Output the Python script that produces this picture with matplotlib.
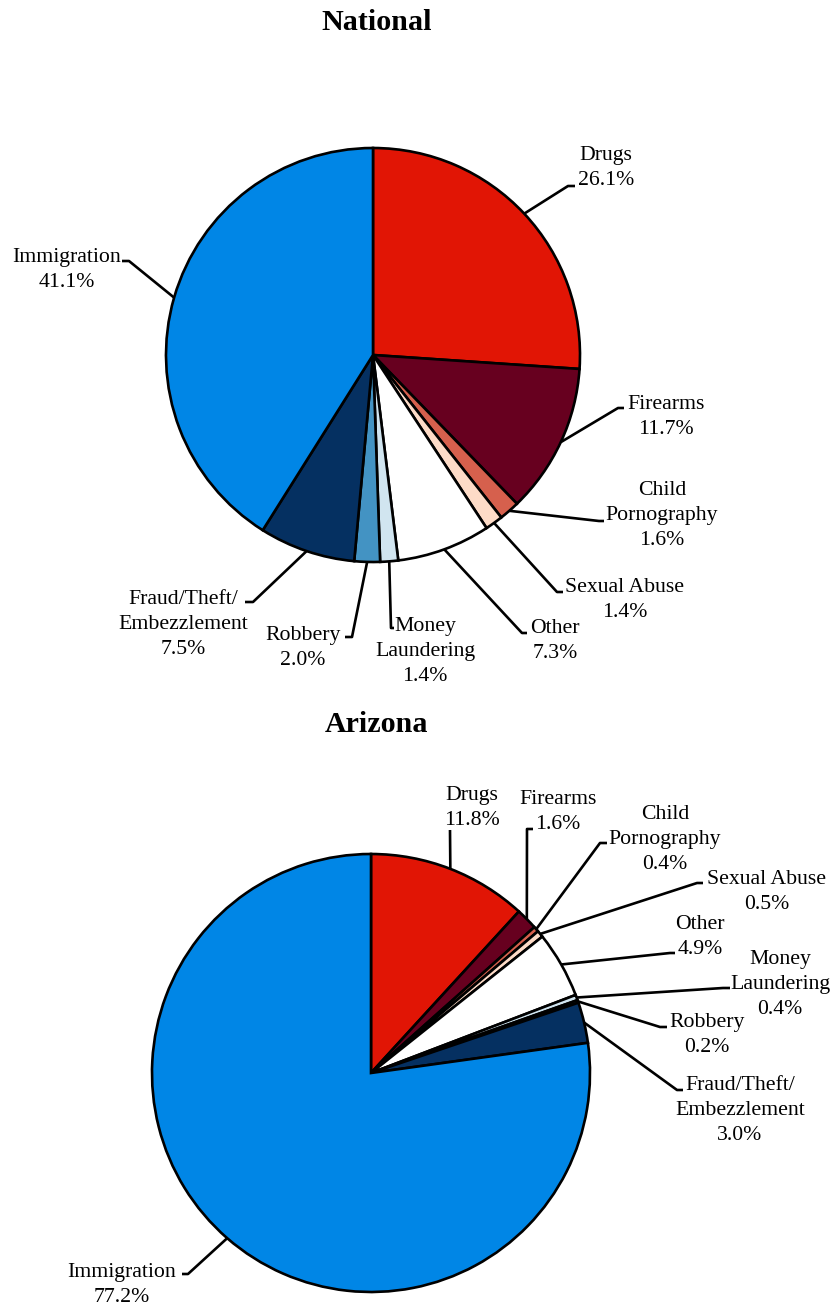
import numpy as np
import matplotlib
matplotlib.use("Agg")
import matplotlib.pyplot as plt

# ---------------- data ----------------
categories = ["Drugs", "Firearms", "Child Pornography", "Sexual Abuse", "Other",
              "Money Laundering", "Robbery", "Fraud/Theft/Embezzlement", "Immigration"]
label_text = ["Drugs", "Firearms", "Child\nPornography", "Sexual Abuse", "Other",
              "Money\nLaundering", "Robbery", "Fraud/Theft/\nEmbezzlement", "Immigration"]
national_values = [26.1, 11.7, 1.6, 1.4, 7.3, 1.4, 2.0, 7.5, 41.1]
arizona_values = [11.8, 1.6, 0.4, 0.5, 4.9, 0.4, 0.2, 3.0, 77.2]
titles = ["National", "Arizona"]

# ---------------- styles / layout ----------------
colors = ["#E11505", "#67001F", "#D6604D", "#FDDBC7", "#FFFFFF",
          "#D1E5F0", "#4393C3", "#053061", "#0086E6"]

W, H = 834, 1307
FONT = "Liberation Serif"
LABEL_SIZE = 15.7
LINE_STEP = 25  # px between label lines
LW = 1.9

# pie geometry in pixel coords (y down)
pie_layout = {
    "National": dict(center=(373, 355), radius=207, title=(377, 22)),
    "Arizona": dict(center=(371, 1073), radius=219, title=(377, 724)),
}
# label layout: text centre (x, y of first line), elbow point, stub end (pixel, y down)
label_layout = {
    "National": [
        ((606, 153), (568, 186), (575, 186)),
        ((666, 402), (618, 408), (624, 408)),
        ((662, 488), (599, 521), (604, 521)),
        ((625, 585), (557, 592), (563, 592)),
        ((555, 626), (522, 633), (527, 633)),
        ((425, 624), (391, 628), (394, 628)),
        ((303, 633), (352, 637), (345, 637)),
        ((183, 597), (253, 602), (245, 602)),
        ((67, 255), (129, 261), (122, 261)),
    ],
    "Arizona": [
        ((472, 793), (450, 830), (450, 830)),
        ((558, 797), (527, 829), (533, 829)),
        ((665, 812), (600, 843), (607, 843)),
        ((767, 877), (697, 883), (703, 883)),
        ((700, 922), (670, 953), (675, 953)),
        ((780, 957), (723, 988), (730, 988)),
        ((707, 1020), (660, 1027), (667, 1027)),
        ((740, 1083), (677, 1090), (683, 1090)),
        ((122, 1270), (188, 1274), (182, 1274)),
    ],
}


def Y(y):
    return H - y


fig = plt.figure(figsize=(W / 100, H / 100), dpi=100)
ax = fig.add_axes([0, 0, 1, 1])

for name, values in zip(titles, [national_values, arizona_values]):
    lay = pie_layout[name]
    cx, cy = lay["center"]
    r = lay["radius"]
    wedges, _ = ax.pie(values, colors=colors, startangle=90, counterclock=False,
                       center=(cx, Y(cy)), radius=r,
                       wedgeprops=dict(edgecolor="black", linewidth=LW))
    ax.text(lay["title"][0], Y(lay["title"][1]), name, fontsize=21.6,
            fontweight="bold", family=FONT, ha="center", va="center")
    for w, val, txt, (tpos, elbow, stub) in zip(wedges, values, label_text,
                                                 label_layout[name]):
        mid = np.deg2rad((w.theta1 + w.theta2) / 2)
        sx = cx + r * np.cos(mid)
        sy = Y(cy) + r * np.sin(mid)
        ax.plot([sx, elbow[0], stub[0]], [sy, Y(elbow[1]), Y(stub[1])],
                color="black", linewidth=LW, solid_capstyle="butt", zorder=3)
        lines = txt.split("\n") + [f"{val:.1f}%"]
        for i, line in enumerate(lines):
            ax.text(tpos[0], Y(tpos[1] + i * LINE_STEP) - 7, line,
                    fontsize=LABEL_SIZE, family=FONT, ha="center", va="baseline")

ax.set_xlim(0, W)
ax.set_ylim(0, H)
ax.set_aspect("auto")
ax.axis("off")
fig.savefig("out.png", dpi=100)
